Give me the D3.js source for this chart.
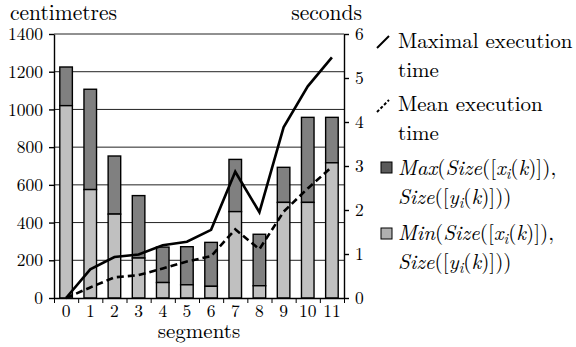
<!DOCTYPE html>
<html>
<head>
<meta charset="utf-8">
<script src="https://cdn.jsdelivr.net/npm/d3@7"></script>
</head>
<body style="margin:0;background:#fff">
<div class="container"></div>
<script>
// data
const segments = ["0", "1", "2", "3", "4", "5", "6", "7", "8", "9", "10", "11"];
const minSize = [1020, 575, 445, 212, 82, 70, 62, 458, 65, 507, 507, 717];   // light part (cm)
const maxSize = [1225, 1107, 753, 543, 270, 272, 295, 735, 338, 693, 958, 958]; // whole bar (cm)
const maxTime = [0, 0.65, 0.93, 0.99, 1.2, 1.28, 1.55, 2.87, 1.95, 3.88, 4.81, 5.47]; // seconds
const meanTime = [0, 0.24, 0.47, 0.52, 0.67, 0.83, 0.95, 1.56, 1.11, 1.96, 2.49, 2.98];
const cmTicks = [0, 200, 400, 600, 800, 1000, 1200, 1400];
const secTicks = [0, 1, 2, 3, 4, 5, 6];

const W = 576, H = 347;
const M = { left: 54, right: 232, top: 34, bottom: 49 };
const DARK = "#808080", LIGHT = "#c0c0c0";
const FONT = "'Latin Modern Roman', 'Liberation Serif', serif";

const svg = d3.select(".container").append("svg")
  .attr("width", W).attr("height", H)
  .attr("viewBox", `0 0 ${W} ${H}`)
  .style("display", "block")
  .style("font-family", FONT);

svg.append("rect").attr("width", W).attr("height", H).attr("fill", "#fff");

const x = d3.scaleBand()
  .domain(segments)
  .range([M.left, W - M.right])
  .paddingInner(0.48).paddingOuter(0.24);
const xIdx = d3.scaleLinear().domain([0, segments.length]).range([M.left, W - M.right]);
const yL = d3.scaleLinear().domain([0, 1400]).range([H - M.bottom, M.top]);
const yR = d3.scaleLinear().domain([0, 6]).range([H - M.bottom, M.top]);
const cx = d => x(d) + x.bandwidth() / 2;

// grid
svg.append("g")
  .selectAll("line")
  .data(cmTicks.slice(1))
  .join("line")
  .attr("x1", M.left).attr("x2", W - M.right)
  .attr("y1", d => yL(d)).attr("y2", d => yL(d))
  .attr("stroke", "#222").attr("stroke-width", 1);

// bars
const bars = svg.append("g");
bars.selectAll(".dark")
  .data(segments)
  .join("rect")
  .attr("x", d => x(d))
  .attr("width", x.bandwidth())
  .attr("y", (d, i) => yL(maxSize[i]))
  .attr("height", (d, i) => yL(minSize[i]) - yL(maxSize[i]))
  .attr("fill", DARK).attr("stroke", "#000").attr("stroke-width", 1.4);
bars.selectAll(".light")
  .data(segments)
  .join("rect")
  .attr("x", d => x(d))
  .attr("width", x.bandwidth())
  .attr("y", (d, i) => yL(minSize[i]))
  .attr("height", (d, i) => yL(0) - yL(minSize[i]))
  .attr("fill", LIGHT).attr("stroke", "#000").attr("stroke-width", 1.4);

// lines
const line = d3.line().x(d => cx(d[0])).y(d => yR(d[1]));
svg.append("path")
  .datum(segments.map((s, i) => [s, maxTime[i]]))
  .attr("fill", "none").attr("stroke", "#000").attr("stroke-width", 2.6)
  .attr("d", line);
svg.append("path")
  .datum(segments.map((s, i) => [s, meanTime[i]]))
  .attr("fill", "none").attr("stroke", "#000").attr("stroke-width", 2.6)
  .attr("stroke-dasharray", "7,4")
  .attr("d", line);

// axes
const axL = svg.append("g")
  .attr("transform", `translate(${M.left},0)`)
  .call(d3.axisLeft(yL).tickValues(cmTicks).tickFormat(d3.format("d"))
    .tickSize(5).tickPadding(6).tickSizeOuter(0));
const axR = svg.append("g")
  .attr("transform", `translate(${W - M.right},0)`)
  .call(d3.axisRight(yR).tickValues(secTicks).tickFormat(d3.format("d"))
    .tickSize(5).tickPadding(6).tickSizeOuter(0));
const axB = svg.append("g")
  .attr("transform", `translate(0,${H - M.bottom})`)
  .call(d3.axisBottom(x).tickSize(0).tickPadding(7).tickSizeOuter(0));
svg.append("g")
  .attr("transform", `translate(0,${H - M.bottom})`)
  .call(d3.axisBottom(xIdx).ticks(segments.length).tickSize(5).tickFormat("").tickSizeOuter(0))
  .select(".domain").remove();

[axL, axR, axB].forEach(g => {
  g.attr("font-family", null).attr("font-size", null);
  g.selectAll("path, line").attr("stroke", "#000").attr("stroke-width", 1.4);
  g.selectAll("text").style("font-family", FONT).style("font-size", "17.5px").attr("fill", "#000");
});

// axis titles
svg.append("text").attr("x", 10).attr("y", 20)
  .style("font-size", "21.5px").text("centimetres");
svg.append("text").attr("x", 362).attr("y", 20)
  .attr("text-anchor", "end").style("font-size", "21.5px").text("seconds");
svg.append("text").attr("x", (M.left + W - M.right) / 2).attr("y", 338)
  .attr("text-anchor", "middle").style("font-size", "21px").text("segments");

// legend
const lg = svg.append("g").style("font-size", "21px");
const tx = 398;
lg.append("line").attr("x1", 377).attr("y1", 48).attr("x2", 389).attr("y2", 36)
  .attr("stroke", "#000").attr("stroke-width", 2);
lg.append("text").attr("x", tx).attr("y", 48).text("Maximal execution");
lg.append("text").attr("x", tx).attr("y", 77).text("time");
lg.append("line").attr("x1", 377).attr("y1", 112).attr("x2", 389).attr("y2", 100)
  .attr("stroke", "#000").attr("stroke-width", 2).attr("stroke-dasharray", "3,2");
lg.append("text").attr("x", tx).attr("y", 111).text("Mean execution");
lg.append("text").attr("x", tx).attr("y", 140).text("time");

lg.append("rect").attr("x", 381).attr("y", 162).attr("width", 11).attr("height", 11)
  .attr("fill", "#5a5a5a").attr("stroke", "#000").attr("stroke-width", 1);
lg.append("rect").attr("x", 381).attr("y", 228).attr("width", 11).attr("height", 11)
  .attr("fill", "#b0b0b0").attr("stroke", "#000").attr("stroke-width", 1);

// math text: [string, italic?, subscript?]
function mathText(y, parts) {
  const t = lg.append("text").attr("x", tx).attr("y", y);
  let prevSub = false;
  parts.forEach(([s, it, sub]) => {
    const sp = t.append("tspan").text(s)
      .style("font-style", it ? "italic" : "normal");
    if (sub) sp.style("font-size", "15px").attr("dy", 4);
    else if (prevSub) sp.attr("dy", -4);
    prevSub = !!sub;
  });
}
mathText(175, [["Max", 1], ["(", 0], ["Size", 1], ["([", 0], ["x", 1], ["i", 1, 1], ["(", 0], ["k", 1], [")]),", 0]]);
mathText(204, [["Size", 1], ["([", 0], ["y", 1], ["i", 1, 1], ["(", 0], ["k", 1], [")]))", 0]]);
mathText(240, [["Min", 1], ["(", 0], ["Size", 1], ["([", 0], ["x", 1], ["i", 1, 1], ["(", 0], ["k", 1], [")]),", 0]]);
mathText(269, [["Size", 1], ["([", 0], ["y", 1], ["i", 1, 1], ["(", 0], ["k", 1], [")]))", 0]]);
</script>
</body>
</html>
